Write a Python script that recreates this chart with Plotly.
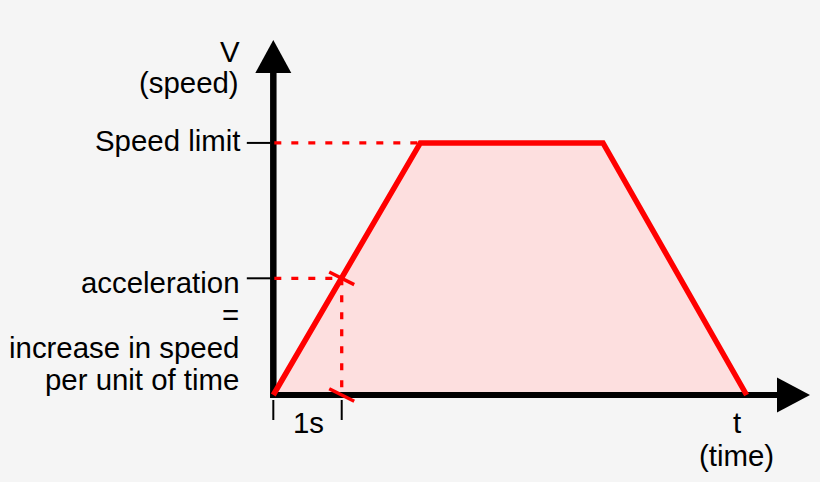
import plotly.graph_objects as go

W, H = 820, 482

# ---------------- data ----------------
time_s = [0, 2.15, 4.82, 6.92]          # trapezoid corner times (s)
speed = [0, 2.16, 2.16, 0]              # speed at those times
speed_limit = 2.16
unit_time = 1.0                          # "1s"
accel_speed = 1.0                        # speed reached after 1 s
ytick_labels = ["Speed limit", "acceleration"]
accel_extra = ["=", "increase in speed", "per unit of time"]
xtick_label = "1s"
x_title = ["t", "(time)"]
y_title = ["V", "(speed)"]

# ---------------- view / helpers ----------------
X_RANGE = [-3.996, 7.993]
Y_RANGE = [-0.7455, 3.3847]


def dx(p):  # pixels -> time units
    return p / W * (X_RANGE[1] - X_RANGE[0])


def dy(p):  # pixels -> speed units
    return p / H * (Y_RANGE[1] - Y_RANGE[0])


def t_of(px):
    return X_RANGE[0] + dx(px)


def v_of(py):
    return Y_RANGE[1] - dy(py)


BLACK = "#000000"
RED = "#ff0000"
FILL = "#fddfdf"
BG = "#f5f5f5"
FONT = "Liberation Sans, Arial, sans-serif"

fig = go.Figure()

# filled area under the speed profile
fig.add_trace(go.Scatter(x=time_s + [time_s[0]], y=speed + [speed[0]], mode="lines",
                         fill="toself", fillcolor=FILL, line=dict(width=0),
                         hoverinfo="skip"))

# axes (lines + arrow heads)
y_axis_top = v_of(73)
x_axis_end = t_of(777)
fig.add_trace(go.Scatter(x=[0, 0], y=[-dy(3), y_axis_top], mode="lines",
                         line=dict(color=BLACK, width=6.5), hoverinfo="skip"))
fig.add_trace(go.Scatter(x=[-dx(3), x_axis_end], y=[0, 0], mode="lines",
                         line=dict(color=BLACK, width=6), hoverinfo="skip"))
fig.add_trace(go.Scatter(x=[-dx(18), 0, dx(18), -dx(18)],
                         y=[y_axis_top, v_of(40), y_axis_top, y_axis_top],
                         mode="lines", fill="toself", fillcolor=BLACK,
                         line=dict(color=BLACK, width=0), hoverinfo="skip"))
fig.add_trace(go.Scatter(x=[x_axis_end, t_of(810), x_axis_end, x_axis_end],
                         y=[dy(17.5), 0, -dy(17.5), dy(17.5)],
                         mode="lines", fill="toself", fillcolor=BLACK,
                         line=dict(color=BLACK, width=0), hoverinfo="skip"))

# small black ticks on the y axis
for v in [speed_limit, accel_speed]:
    fig.add_trace(go.Scatter(x=[-dx(26.5), -dx(3)], y=[v, v], mode="lines",
                             line=dict(color=BLACK, width=2), hoverinfo="skip"))
# bracket ticks under the x axis for "1s"
for t in [0, unit_time]:
    fig.add_trace(go.Scatter(x=[t, t], y=[-dy(5), -dy(25)], mode="lines",
                             line=dict(color=BLACK, width=2), hoverinfo="skip"))

# dashed guides
dash = dict(color=RED, width=3.3, dash="7px,10px")
fig.add_trace(go.Scatter(x=[dx(1), time_s[1]], y=[speed_limit, speed_limit],
                         mode="lines", line=dash, hoverinfo="skip"))
fig.add_trace(go.Scatter(x=[dx(1), unit_time], y=[accel_speed, accel_speed],
                         mode="lines", line=dash, hoverinfo="skip"))
fig.add_trace(go.Scatter(x=[unit_time, unit_time], y=[accel_speed, dy(7)],
                         mode="lines", line=dash, hoverinfo="skip"))

# speed profile line
fig.add_trace(go.Scatter(x=time_s, y=speed, mode="lines",
                         line=dict(color=RED, width=5.5), hoverinfo="skip"))

# red cross ticks
for v in [accel_speed, 0]:
    fig.add_trace(go.Scatter(x=[unit_time - dx(12.5), unit_time + dx(12.5)],
                             y=[v + dy(6.3), v - dy(6.3)], mode="lines",
                             line=dict(color=RED, width=3.5), hoverinfo="skip"))

# ---------------- text ----------------
def label(text, px, py, xanchor="right"):
    fig.add_annotation(text=text, x=px / W, y=1 - py / H, xref="paper", yref="paper",
                       xanchor=xanchor, yanchor="middle", showarrow=False,
                       borderpad=0, borderwidth=0,
                       font=dict(family=FONT, size=29.4, color=BLACK))


label(y_title[0], 240, 51.7)
label(y_title[1], 239.5, 82)
label(ytick_labels[0], 240, 140.5)
label(ytick_labels[1], 239.5, 282)
label(accel_extra[0], 239.5, 314.5)
label(accel_extra[1], 239.5, 347)
label(accel_extra[2], 239.5, 379.5)
label(xtick_label, 308, 422, "center")
label(x_title[0], 737, 422, "center")
label(x_title[1], 736, 455.4, "center")

fig.update_layout(
    width=W, height=H, margin=dict(l=0, r=0, t=0, b=0),
    paper_bgcolor=BG, plot_bgcolor=BG, showlegend=False,
    xaxis=dict(range=X_RANGE, visible=False, fixedrange=True),
    yaxis=dict(range=Y_RANGE, visible=False, fixedrange=True),
)

fig.write_html("out.html")
